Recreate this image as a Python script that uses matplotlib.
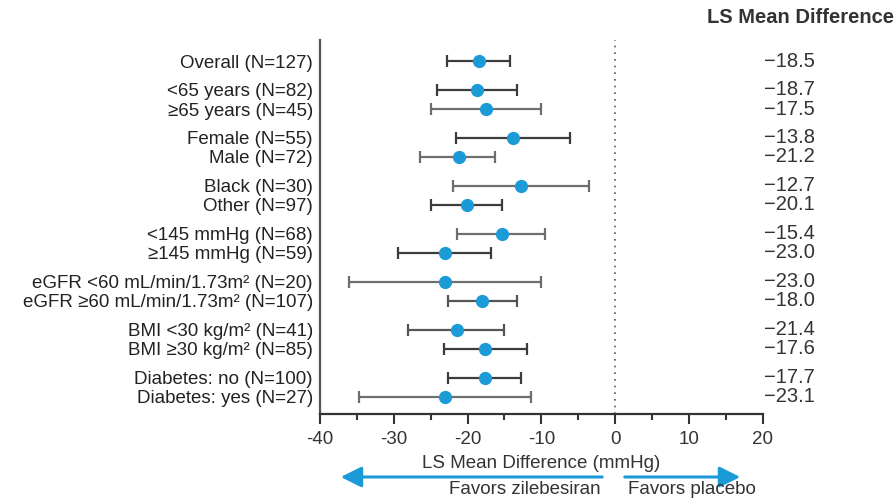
import matplotlib.pyplot as plt
from matplotlib.patches import FancyArrowPatch

plt.rcParams['font.family'] = ['Liberation Sans', 'DejaVu Sans']

labels = ['Overall (N=127)',
          '<65 years (N=82)', '\u226565 years (N=45)',
          'Female (N=55)', 'Male (N=72)',
          'Black (N=30)', 'Other (N=97)',
          '<145 mmHg (N=68)', '\u2265145 mmHg (N=59)',
          'eGFR <60 mL/min/1.73m\u00b2 (N=20)', 'eGFR \u226560 mL/min/1.73m\u00b2 (N=107)',
          'BMI <30 kg/m\u00b2 (N=41)', 'BMI \u226530 kg/m\u00b2 (N=85)',
          'Diabetes: no (N=100)', 'Diabetes: yes (N=27)']
mean_diff = [-18.5, -18.7, -17.5, -13.8, -21.2, -12.7, -20.1, -15.4, -23.0,
             -23.0, -18.0, -21.4, -17.6, -17.7, -23.1]
ci_low = [-22.8, -24.2, -25.0, -21.5, -26.4, -22.0, -25.0, -21.4, -29.4,
          -36.1, -22.7, -28.0, -23.2, -22.6, -34.7]
ci_high = [-14.2, -13.3, -10.1, -6.1, -16.3, -3.5, -15.3, -9.5, -16.8,
           -10.0, -13.3, -15.0, -11.9, -12.7, -11.4]
# rows sit in pairs; a wider gap separates the subgroups
ypos = [0, 1.5, 2.5, 4, 5, 6.5, 7.5, 9, 10, 11.5, 12.5, 14, 15, 16.5, 17.5]
bar_colors = ['#3c3c3c', '#3c3c3c', '#6e6e6e', '#3c3c3c', '#6e6e6e', '#6e6e6e', '#3c3c3c',
              '#6e6e6e', '#3c3c3c', '#6e6e6e', '#555555', '#555555', '#3c3c3c', '#3c3c3c', '#6e6e6e']

blue = '#1a9ad6'
fs = 13.5

fig = plt.figure(figsize=(8.96, 5.03), dpi=100)
ax = fig.add_axes([0.357, 0.177, 0.4945, 0.7435])

for y, m, lo, hi, c in zip(ypos, mean_diff, ci_low, ci_high, bar_colors):
    ax.errorbar(m, y, xerr=[[m - lo], [hi - m]], fmt='none', ecolor=c,
                elinewidth=1.6, capsize=4, capthick=1.6, zorder=2)
ax.plot(mean_diff, ypos, 'o', color=blue, markersize=8.5, zorder=3)

ax.axvline(0, color='#555555', linestyle=(0, (1, 3)), linewidth=1.2, zorder=1)

ax.set_xlim(-40, 20)
ax.set_ylim(18.4, -1.1)
ax.set_xticks(range(-40, 21, 10))
ax.set_xticks(range(-35, 20, 10), minor=True)
ax.set_xticklabels([str(v) for v in range(-40, 21, 10)])
ax.tick_params(axis='x', which='major', length=7, width=1.5, colors='#333333',
               labelsize=fs, pad=5)
ax.tick_params(axis='x', which='minor', length=4, width=1.5, colors='#333333')
ax.set_yticks(ypos)
ax.set_yticklabels(labels)
ax.tick_params(axis='y', length=0, labelsize=fs, colors='#222222', pad=5)
for s in ['top', 'right']:
    ax.spines[s].set_visible(False)
ax.spines['left'].set_linewidth(1.6)
ax.spines['bottom'].set_linewidth(1.6)
ax.spines['left'].set_color('#555555')
ax.spines['bottom'].set_color('#333333')

ax.set_xlabel('LS Mean Difference (mmHg)', fontsize=fs, color='#333333', labelpad=5)

# value column on the right
for y, m in zip(ypos, mean_diff):
    ax.text(1.118, y, '\u2212%.1f' % abs(m), transform=ax.get_yaxis_transform(),
            ha='right', va='center', fontsize=14.5, color='#333333')
fig.text(0.998, 0.966, 'LS Mean Difference', ha='right', va='center',
         fontsize=14.5, fontweight='bold', color='#333333')

# direction arrows under the axis
arrow_y = 1 - 477 / 503
for start, end in [(605, 338), (622, 743)]:
    fig.add_artist(FancyArrowPatch(
        (start / 896, arrow_y), (end / 896, arrow_y), transform=fig.transFigure,
        arrowstyle='-|>,head_length=0.9,head_width=0.45', mutation_scale=14,
        color=blue, linewidth=2.2))
fig.text(525 / 896, 1 - 490 / 503, 'Favors zilebesiran', ha='center', va='center',
         fontsize=fs, color='#333333')
fig.text(692 / 896, 1 - 490 / 503, 'Favors placebo', ha='center', va='center',
         fontsize=fs, color='#333333')

fig.savefig('out.png', dpi=100, facecolor='white')
